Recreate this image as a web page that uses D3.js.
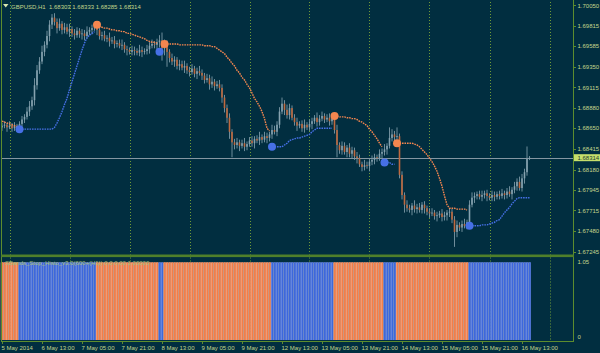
<!DOCTYPE html>
<html>
<head>
<meta charset="utf-8">
<script src="https://cdn.jsdelivr.net/npm/d3@7"></script>
<style>
html, body { margin: 0; padding: 0; background: #012e40; }
svg { display: block; }
text { font-family: "Liberation Sans", Arial, sans-serif; }
</style>
</head>
<body>
<svg id="chart" width="600" height="353"></svg>
<script>
// GBPUSD H1, 5 May 21:00 .. 16 May 16:00 (one value per hourly bar)
var firstOpen = 1.6866;
var closes = [
  1.6868,1.6869,1.6866,1.6868,1.6865,1.6868,1.6866,1.6870,1.6875,1.6878,
  1.6884,1.6890,1.6897,1.6914,1.6931,1.6941,1.6952,1.6960,1.6970,1.6983,
  1.6991,1.6986,1.6979,1.6984,1.6977,1.6980,1.6975,1.6978,1.6973,1.6971,
  1.6976,1.6972,1.6973,1.6970,1.6975,1.6977,1.6979,1.6980,1.6977,1.6970,
  1.6971,1.6967,1.6968,1.6964,1.6965,1.6961,1.6962,1.6959,1.6960,1.6955,
  1.6954,1.6952,1.6954,1.6953,1.6951,1.6954,1.6952,1.6953,1.6955,1.6959,
  1.6961,1.6960,1.6963,1.6965,1.6956,1.6961,1.6952,1.6945,1.6941,1.6943,
  1.6936,1.6938,1.6934,1.6936,1.6931,1.6929,1.6933,1.6927,1.6930,1.6928,
  1.6925,1.6920,1.6922,1.6915,1.6918,1.6913,1.6915,1.6911,1.6900,1.6888,
  1.6877,1.6861,1.6849,1.6846,1.6849,1.6845,1.6848,1.6844,1.6847,1.6851,
  1.6848,1.6853,1.6851,1.6855,1.6852,1.6856,1.6854,1.6858,1.6863,1.6861,
  1.6869,1.6884,1.6893,1.6886,1.6880,1.6888,1.6877,1.6872,1.6868,1.6870,
  1.6865,1.6869,1.6866,1.6870,1.6873,1.6877,1.6872,1.6876,1.6879,1.6875,
  1.6877,1.6873,1.6876,1.6863,1.6846,1.6840,1.6845,1.6838,1.6843,1.6836,
  1.6840,1.6833,1.6831,1.6824,1.6821,1.6823,1.6822,1.6827,1.6829,1.6832,
  1.6831,1.6836,1.6838,1.6841,1.6845,1.6854,1.6858,1.6855,1.6856,1.6812,
  1.6789,1.6778,1.6774,1.6772,1.6777,1.6773,1.6775,1.6772,1.6778,1.6774,
  1.6770,1.6768,1.6769,1.6765,1.6766,1.6768,1.6764,1.6766,1.6769,1.6770,
  1.6761,1.6747,1.6755,1.6752,1.6756,1.6754,1.6758,1.6778,1.6786,1.6788,
  1.6790,1.6787,1.6789,1.6791,1.6788,1.6786,1.6789,1.6787,1.6790,1.6788,
  1.6791,1.6789,1.6793,1.6790,1.6795,1.6799,1.6804,1.6797,1.6808,1.6815,
  1.68303,1.68314
];
// upper / lower shadow length of each bar, in pips
var wickHi = [
  3,4,2,5,3,4,2,3,4,3, 5,6,4,8,6,5,7,4,6,5, 4,5,4,6,3,5,4,6,3,5,
  4,3,5,4,6,3,4,5,3,6, 4,5,3,6,4,5,3,4,6,3, 4,3,5,4,3,6,4,3,5,4,
  5,3,4,6,9,5,4,3,5,4, 3,5,4,6,3,4,5,3,4,6, 4,3,5,4,6,3,4,5,4,3,
  4,5,3,4,5,3,4,6,3,4, 5,3,4,6,3,5,4,3,6,5, 4,5,7,4,6,5,3,4,5,3,
  4,6,3,5,4,3,6,4,5,3, 4,5,3,4,6,3,5,4,3,5, 4,3,5,4,3,6,4,3,5,4,
  3,5,4,6,3,12,6,4,10,3, 4,3,5,4,3,6,4,5,3,4, 3,4,5,3,4,3,5,4,3,4,
  3,4,5,3,4,6,3,5,6,4, 3,4,5,3,4,3,5,4,3,4, 5,3,4,6,3,5,4,6,5,4,
  14,2
];
var wickLo = [
  4,3,5,2,4,3,5,4,3,4, 3,5,4,6,5,4,3,5,4,6, 5,4,6,3,5,4,3,6,4,5,
  3,4,6,5,3,4,5,3,6,4, 5,3,4,6,3,5,4,3,5,4, 6,3,4,5,3,4,6,3,4,5,
  3,4,5,6,14,8,17,5,4,6, 4,5,3,6,4,5,3,4,6,3, 5,4,3,6,4,5,3,4,6,5,
  6,8,17,5,4,6,3,5,4,3, 4,6,3,5,4,3,6,4,5,3, 5,4,3,6,4,5,3,4,6,3,
  4,5,3,4,6,3,5,4,3,4, 3,5,4,4,14,4,5,3,6,4, 5,4,6,3,5,4,3,6,4,5,
  4,3,5,4,6,3,4,5,3,4, 5,9,4,3,6,4,5,3,4,6, 4,5,3,4,6,3,5,4,6,5,
  4,17,6,4,5,3,4,5,3,6, 4,3,5,4,6,3,4,5,3,4, 3,5,4,3,6,4,5,3,4,6,
  4,1.5
];

// stop line segments: [first bar, values]
var dnStopSegs = [
  [0,   [1.6873,1.6872,1.6871,1.6870,1.6869,1.6868,1.6866]],
  [38,  [1.6983,1.6981,1.6980,1.6979,1.6979,1.6978,1.6977,1.6977,1.6976,1.6976,
         1.6975,1.6975,1.6973,1.6973,1.6972,1.6971,1.6970,1.6969,1.6968,1.6967,
         1.6965,1.6964,1.6963,1.6963,1.6962]],
  [65,  [1.6961,1.6961,1.6961,1.6961,1.6961,1.6961,1.6960,1.6960,1.6960,1.6960,
         1.6960,1.6960,1.6960,1.6960,1.6960,1.6960,1.6959,1.6959,1.6959,1.6958,
         1.6958,1.6956,1.6954,1.6952,1.6950,1.6946,1.6943,1.6939,1.6936,1.6931,
         1.6928,1.6923,1.6920,1.6915,1.6911,1.6905,1.6899,1.6895,1.6890,1.6884,
         1.6876,1.6865,1.6862]],
  [133, [1.6879,1.6879,1.6878,1.6878,1.6878,1.6877,1.6877,1.6876,1.6876,1.6875,
         1.6873,1.6872,1.6870,1.6868,1.6864,1.6861,1.6857,1.6853,1.6848,1.6844]],
  [158, [1.6848,1.6848,1.6848,1.6848,1.6848,1.6848,1.6848,1.6847,1.6846,1.6844,
         1.6841,1.6838,1.6835,1.6831,1.6827,1.6822,1.6816,1.6808,1.6799,1.6788,
         1.6778,1.6774,1.6774,1.6774,1.6773,1.6773,1.6773,1.6773,1.6772]]
];
var upStopSegs = [
  [7,   [1.6864,1.6864,1.6864,1.6864,1.6864,1.6864,1.6864,1.6864,1.6864,1.6864,
         1.6864,1.6864,1.6864,1.6864,1.6866,1.6871,1.6877,1.6884,1.6892,1.6899,
         1.6909,1.6918,1.6927,1.6936,1.6945,1.6954,1.6962,1.6968,1.6971,1.6973,
         1.6975]],
  [63,  [1.6952,1.6952]],
  [108, [1.6844,1.6844,1.6844,1.6844,1.6844,1.6846,1.6848,1.6851,1.6852,1.6853,
         1.6854,1.6854,1.6855,1.6856,1.6857,1.6858,1.6861,1.6863,1.6865,1.6865,
         1.6865,1.6865,1.6865,1.6865,1.6865]],
  [153, [1.6826,1.6826,1.6826,1.6824,1.6824]],
  [187, [1.6754,1.6754,1.6754,1.6754,1.6754,1.6755,1.6755,1.6755,1.6756,1.6757,
         1.6758,1.6760,1.6761,1.6765,1.6769,1.6772,1.6775,1.6779,1.6782,1.6785,
         1.6786,1.6786,1.6786,1.6786,1.6786]]
];

var priceTicks = [1.67245,1.67480,1.67715,1.67945,1.68180,1.68415,1.68650,
                  1.68880,1.69115,1.69350,1.69585,1.69815,1.70050];
var timeLabels = ["5 May 2014","6 May 13:00","7 May 05:00","7 May 21:00","8 May 13:00",
                  "9 May 05:00","9 May 21:00","12 May 13:00","13 May 05:00","13 May 21:00",
                  "14 May 13:00","15 May 05:00","15 May 21:00","16 May 13:00"];
var labelStep = 16;                       // bars between time labels
var midnightBars = [3,27,51,75,99,123,147,171,195,219];
var headerText = "GBPUSD,H1  1.68303 1.68333 1.68285 1.68314";
var subTitle = "SBands_Stop_Histo_v3.0(600+(H1)) 0.0 0.00 1.00000";
var lastPrice = 1.68314;
var histoTicks = [0, 1.05];

var svg = d3.select("#chart");
var W = 600, H = 353;
var left = 2, right = 573, mainTop = 2, mainBot = 254.5, subTop = 257.5, subBot = 341;

var green = "#5d8c2e", txt = "#c3d68c";
var orange = "#f47e48", blue = "#3d68dc";

var x = d3.scaleLinear().domain([0, 228.4]).range([left, right]);
var y = d3.scaleLinear().domain([1.67245, 1.70050]).range([251.7, 5.3]);
var yh = d3.scaleLinear().domain([0, 1.05]).range([subBot - 1, subTop + 1]);

svg.append("rect").attr("width", W).attr("height", H).attr("fill", "#012e40");

// build bars
var bars = closes.map(function(c, i){
  var o = i ? closes[i-1] : firstOpen;
  return {i: i, o: o, c: c,
          h: Math.max(o, c) + wickHi[i] * 0.0001,
          l: Math.min(o, c) - wickLo[i] * 0.0001};
});

function expand(segs){
  var arr = closes.map(function(){ return null; });
  segs.forEach(function(s){
    s[1].forEach(function(v, k){ arr[s[0] + k] = v; });
  });
  return arr;
}
var dnStop = expand(dnStopSegs), upStop = expand(upStopSegs);

// grid (midnights)
var grid = svg.append("g");
[[mainTop, mainBot], [subTop, subBot]].forEach(function(r){
  grid.selectAll(null).data(midnightBars).enter().append("line")
    .attr("x1", function(d){ return Math.round(x(d)) + 0.5; })
    .attr("x2", function(d){ return Math.round(x(d)) + 0.5; })
    .attr("y1", r[0]).attr("y2", r[1])
    .attr("stroke", "#6d9a38").attr("stroke-width", 1)
    .attr("stroke-dasharray", "1,2");
});

// histogram sub window
var hg = svg.append("g");
hg.selectAll("rect").data(bars).enter().append("rect")
  .attr("x", function(d){ return x(d.i) - 1.25; })
  .attr("width", 2.5)
  .attr("y", yh(1))
  .attr("height", yh(0) - yh(1))
  .attr("fill", function(d){ return dnStop[d.i] != null ? "#f4b49a" : "#8aa2e6"; });
hg.selectAll(null).data(bars).enter().append("rect")
  .attr("x", function(d){ return x(d.i) - 0.5; })
  .attr("width", 1.6)
  .attr("y", yh(1))
  .attr("height", yh(0) - yh(1))
  .attr("fill", function(d){ return dnStop[d.i] != null ? orange : blue; });

// main window
svg.append("clipPath").attr("id", "mainClip").append("rect")
  .attr("x", left).attr("y", mainTop).attr("width", right - left).attr("height", mainBot - mainTop);
var mg = svg.append("g").attr("clip-path", "url(#mainClip)");

// current price line
mg.append("line").attr("x1", left).attr("x2", right)
  .attr("y1", Math.round(y(lastPrice)) + 0.5).attr("y2", Math.round(y(lastPrice)) + 0.5)
  .attr("stroke", "#8596a2").attr("stroke-width", 1);

// candles
var cg = mg.append("g");
cg.selectAll("line").data(bars).enter().append("line")
  .attr("x1", function(d){ return x(d.i); }).attr("x2", function(d){ return x(d.i); })
  .attr("y1", function(d){ return y(d.h); }).attr("y2", function(d){ return y(d.l); })
  .attr("stroke", "#7c98a6").attr("stroke-width", 0.9);
cg.selectAll("rect").data(bars).enter().append("rect")
  .attr("x", function(d){ return x(d.i) - 0.8; })
  .attr("width", 1.6)
  .attr("y", function(d){ return y(Math.max(d.o, d.c)); })
  .attr("height", function(d){ return Math.max(0.8, Math.abs(y(d.o) - y(d.c))); })
  .attr("fill", function(d){ return d.c < d.o ? "#c0693f" : "#86a2b0"; });

// stop lines
function drawStops(segs, color){
  var line = d3.line()
    .x(function(d){ return x(d[0]); })
    .y(function(d){ return y(d[1]); });
  segs.forEach(function(s){
    var pts = s[1].map(function(v, k){ return [s[0] + k, v]; });
    mg.append("path").attr("d", line(pts))
      .attr("fill", "none").attr("stroke", color).attr("stroke-width", 1.4)
      .attr("stroke-dasharray", "1.6,0.9");
    if (s[0] > 0) {
      mg.append("circle").attr("cx", x(s[0])).attr("cy", y(s[1][0])).attr("r", 4)
        .attr("fill", color);
    }
  });
}
drawStops(dnStopSegs, "#f4864f");
drawStops(upStopSegs, "#4670e6");

// frame
svg.append("line").attr("x1", left - 0.5).attr("x2", left - 0.5).attr("y1", 0).attr("y2", subBot)
  .attr("stroke", green);
svg.append("line").attr("x1", right + 0.5).attr("x2", right + 0.5).attr("y1", 0).attr("y2", subBot + 0.5)
  .attr("stroke", green);
svg.append("rect").attr("x", left - 1).attr("y", mainBot).attr("width", right - left + 2).attr("height", 2.6)
  .attr("fill", "#4f7f2a");
svg.append("line").attr("x1", left - 1).attr("x2", right + 1).attr("y1", subBot + 0.5).attr("y2", subBot + 0.5)
  .attr("stroke", green);

// price axis
var pa = svg.append("g");
pa.selectAll("line").data(priceTicks).enter().append("line")
  .attr("x1", right).attr("x2", right + 3)
  .attr("y1", function(d){ return Math.round(y(d)) + 0.5; })
  .attr("y2", function(d){ return Math.round(y(d)) + 0.5; })
  .attr("stroke", green);
pa.selectAll("text").data(priceTicks).enter().append("text")
  .attr("x", right + 4.5).attr("y", function(d){ return y(d) + 2.2; })
  .attr("font-size", "6px").attr("fill", txt)
  .text(function(d){ return d.toFixed(5); });

// current price tag
svg.append("rect").attr("x", right + 1).attr("y", y(lastPrice) - 3.6).attr("width", W - right - 1).attr("height", 7)
  .attr("fill", "#c6df6c");
svg.append("text").attr("x", right + 4.5).attr("y", y(lastPrice) + 2.2)
  .attr("font-size", "6px").attr("fill", "#1d3a30").text(lastPrice.toFixed(5));

// histogram axis
svg.selectAll(".hl").data(histoTicks).enter().append("text")
  .attr("x", right + 4.5)
  .attr("y", function(d){ return d === 0 ? yh(0) - 1 : subTop + 6.5; })
  .attr("font-size", "6px").attr("fill", txt)
  .text(function(d){ return d === 0 ? "0" : d.toFixed(2); });

// time axis
var ta = svg.append("g");
ta.selectAll("line").data(timeLabels).enter().append("line")
  .attr("x1", function(d, k){ return Math.round(x(k * labelStep)) + 0.5; })
  .attr("x2", function(d, k){ return Math.round(x(k * labelStep)) + 0.5; })
  .attr("y1", subBot).attr("y2", subBot + 3)
  .attr("stroke", green);
ta.selectAll("text").data(timeLabels).enter().append("text")
  .attr("x", function(d, k){ return x(k * labelStep) - 0.5; })
  .attr("y", 350)
  .attr("font-size", "6px").attr("fill", txt)
  .text(function(d){ return d; });

// titles
svg.append("path").attr("d", "M3,4 L8.5,4 L5.75,7.5 Z").attr("fill", "#d8e6b0");
svg.append("text").attr("x", 11).attr("y", 8.5).attr("font-size", "6px").attr("fill", txt)
  .attr("xml:space", "preserve").style("white-space", "pre").text(headerText);
svg.append("text").attr("x", 5).attr("y", subTop + 7.5).attr("font-size", "6px").attr("fill", "#a9c07a")
  .text(subTitle);
</script>
</body>
</html>
